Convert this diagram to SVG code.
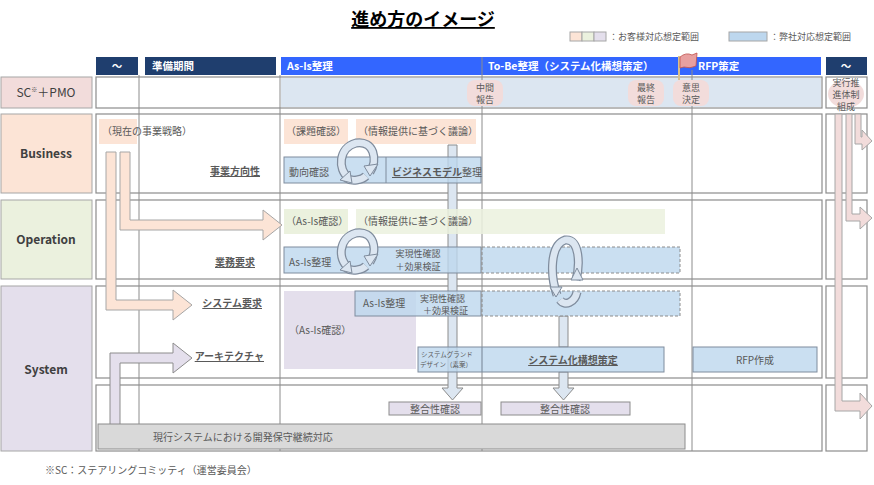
<svg xmlns="http://www.w3.org/2000/svg" width="874" height="485" viewBox="0 0 874 485">
<style>
text{font-family:"Noto Sans CJK JP","Liberation Sans",sans-serif;fill:#595959;font-size:10px}
.hd{fill:#fff;font-weight:bold;font-size:10.5px}
.lab{font-weight:bold;font-size:12px;fill:#404040}
.u{font-weight:bold;text-decoration:underline}
.sm{font-size:9px}
.row{fill:#fff;stroke:#8c8c8c;stroke-width:1.2}
.grid{stroke:#8c8c8c;stroke-width:1}
.bl{fill:#BDD7EE;fill-opacity:0.8;stroke:#7f8c9d;stroke-width:1}
.dash{fill:#BDD7EE;fill-opacity:0.8;stroke:#8c8c8c;stroke-dasharray:3,2}
.pk{fill:#FCE4D6}
.gr{fill:#EBF1DE}
.lv{fill:#E4DFEC}
.arP{fill:#FCE4D6;stroke:#a6a6a6;stroke-width:1}
.arL{fill:#E4DFEC;stroke:#8c8c8c;stroke-width:1}
.arR{fill:#F2DCDB;stroke:#a6a6a6;stroke-width:1}
.arB{fill:#DCE6F1;stroke:#8c8c8c;stroke-width:1}
.cyO{fill:none;stroke:#7f8c9d;stroke-width:9}
.cyI{fill:none;stroke:#DCE6F1;stroke-width:6.5}
.bub{fill:#F2DCDB}
</style>
<g id="title">
<text x="423" y="26" text-anchor="middle" style="font-size:18px;font-weight:bold;fill:#000;text-decoration:underline">進め方のイメージ</text>
</g>
<g id="legend">
<rect x="570" y="32" width="12" height="9" class="pk" stroke="#a6a6a6"/>
<rect x="582" y="32" width="12" height="9" class="gr" stroke="#a6a6a6"/>
<rect x="594" y="32" width="12" height="9" class="lv" stroke="#a6a6a6"/>
<text x="609" y="40" style="font-size:9px">：お客様対応想定範囲</text>
<rect x="729" y="32" width="38" height="9" fill="#BDD7EE" stroke="#a6a6a6"/>
<text x="770" y="40" style="font-size:9px">：弊社対応想定範囲</text>
</g>
<g id="header">
<rect x="96" y="57" width="42" height="18" fill="#1F3E6E"/>
<text x="117" y="70" class="hd" text-anchor="middle">～</text>
<rect x="145" y="57" width="131" height="18" fill="#1F3E6E"/>
<text x="152" y="70" class="hd">準備期間</text>
<rect x="281" y="57" width="540" height="18" fill="#3366FF"/>
<text x="287" y="70" class="hd">As-Is整理</text>
<text x="488" y="70" class="hd">To-Be整理（システム化構想策定）</text>
<text x="698" y="70" class="hd">RFP策定</text>
<rect x="826" y="57" width="41" height="18" fill="#1F3E6E"/>
<text x="846" y="70" class="hd" text-anchor="middle">～</text>
</g>
<g id="rows">
<rect x="1" y="77" width="91" height="31" fill="#F2DCDB" stroke="#a6a6a6"/>
<text x="46" y="97" text-anchor="middle" style="font-size:12px;fill:#404040">SC<tspan style="font-size:6px" dy="-5">※</tspan><tspan dy="5">＋PMO</tspan></text>
<rect x="96" y="77" width="726" height="31" class="row"/>
<rect x="281" y="78" width="540" height="29" fill="#DCE6F1"/>
<rect x="826" y="77" width="41" height="31" class="row"/>
<rect x="1" y="114" width="91" height="79" class="pk" stroke="#a6a6a6"/>
<text x="46" y="158" text-anchor="middle" class="lab">Business</text>
<rect x="96" y="114" width="726" height="79" class="row"/>
<rect x="826" y="114" width="41" height="79" class="row"/>
<rect x="1" y="200" width="91" height="79" class="gr" stroke="#a6a6a6"/>
<text x="46" y="244" text-anchor="middle" class="lab">Operation</text>
<rect x="96" y="200" width="726" height="79" class="row"/>
<rect x="826" y="200" width="41" height="79" class="row"/>
<rect x="1" y="286" width="91" height="165" class="lv" stroke="#a6a6a6"/>
<text x="46" y="374" text-anchor="middle" class="lab">System</text>
<rect x="96" y="286" width="726" height="92" class="row"/>
<rect x="826" y="286" width="41" height="92" class="row"/>
<rect x="96" y="385" width="726" height="66" class="row"/>
<rect x="826" y="385" width="41" height="66" class="row"/>
</g>
<g id="gridlines">
<line x1="139" y1="75" x2="139" y2="451" class="grid"/>
<line x1="280" y1="75" x2="280" y2="451" class="grid"/>
<line x1="482" y1="57" x2="482" y2="451" class="grid"/>
<line x1="692" y1="70" x2="692" y2="451" class="grid"/>
</g>
<g id="connectors">
<path d="M106,152 H116 V300 H173 V290 L192,305 L173,320 V310 H106 Z" class="arP"/>
<path d="M120,152 H130 V220 H263 V210 L282,225 L263,240 V230 H120 Z" class="arP"/>
<path d="M110,437 V353 H173 V343 L192,358 L173,373 V363 H120 V437 Z" class="arL"/>
<path d="M448,145 H457 V388 H463 L452.5,400 L442,388 H448 Z" class="arB"/>
<path d="M559,316 H568 V347 H559 Z M559,372 H568 V388 H574 L563.5,400 L553,388 H559 Z" class="arB"/>
<path d="M835,114 H842 V401 H860 V393 L872,406 L860,419 V411 H835 Z" class="arR"/>
<path d="M846,114 H852 V214 H860 V207 L872,218 L860,229 V221 H846 Z" class="arR"/>
<path d="M855,114 H861 V137 H862 V130 L872,141 L862,150 V144 H855 Z" class="arR"/>
</g>
<g id="sc-items">
<rect x="467" y="80" width="36" height="26" rx="8" class="bub"/>
<text x="485" y="91" text-anchor="middle" class="sm">中間</text><text x="485" y="103" text-anchor="middle" class="sm">報告</text>
<rect x="628" y="80" width="36" height="26" rx="8" class="bub"/>
<text x="646" y="91" text-anchor="middle" class="sm">最終</text><text x="646" y="103" text-anchor="middle" class="sm">報告</text>
<rect x="673" y="80" width="36" height="26" rx="8" class="bub"/>
<text x="691" y="91" text-anchor="middle" class="sm">意思</text><text x="691" y="103" text-anchor="middle" class="sm">決定</text>
<ellipse cx="846" cy="94" rx="18" ry="14" class="bub"/>
<text x="846" y="86" text-anchor="middle" class="sm">実行推</text><text x="846" y="98" text-anchor="middle" class="sm">進体制</text><text x="846" y="110" text-anchor="middle" class="sm">組成</text>
<line x1="679" y1="56" x2="679" y2="80" stroke="#d9c08c" stroke-width="2"/>
<path d="M680,57 Q686,52 692,55 L697,53 L696,66 Q690,69 684,67 L680,68 Z" fill="#E8A0A0" stroke="#c0504d" stroke-width="0.8"/>
</g>
<g id="business">
<rect x="99" y="119" width="38" height="25" class="pk"/>
<text x="102" y="135">（現在の事業戦略）</text>
<text x="260" y="175" class="u" text-anchor="end">事業方向性</text>
<rect x="284" y="119" width="64" height="25" class="pk"/>
<text x="286" y="135">（課題確認）</text>
<rect x="356" y="119" width="120" height="25" class="pk"/>
<text x="358" y="135">（情報提供に基づく議論）</text>
<rect x="284" y="157" width="197" height="26" class="bl"/>
<line x1="386" y1="157" x2="386" y2="183" stroke="#7f8c9d"/>
<text x="289" y="176">動向確認</text>
<text x="392" y="176"><tspan class="u">ビジネスモデル</tspan>整理</text>
<path d="M348,177 C338,170 338,148 356,143 C374,140 378,160 370,172 M346,178 C352,182 362,180 366,176" class="cyO"/>
<path d="M348,177 C338,170 338,148 356,143 C374,140 378,160 370,172 M346,178 C352,182 362,180 366,176" class="cyI"/>
<path d="M340,180 L350,171 L352,183 Z M378,164 L370,176 L364,166 Z" fill="#DCE6F1" stroke="#7f8c9d"/>
</g>
<g id="operation">
<text x="255" y="266" class="u" text-anchor="end">業務要求</text>
<rect x="284" y="209" width="64" height="25" class="gr"/>
<text x="286" y="225">（As-Is確認）</text>
<rect x="356" y="209" width="309" height="25" class="gr" fill-opacity="0.85"/>
<text x="358" y="225">（情報提供に基づく議論）</text>
<rect x="284" y="247" width="197" height="26" class="bl"/>
<rect x="482" y="247" width="198" height="26" class="dash"/>
<text x="289" y="266">As-Is整理</text>
<text x="418" y="257" text-anchor="middle" class="sm">実現性確認</text>
<text x="418" y="270" text-anchor="middle" class="sm">＋効果検証</text>
<path d="M348,267 C338,260 338,238 356,233 C374,230 378,250 370,262 M346,268 C352,272 362,270 366,266" class="cyO"/>
<path d="M348,267 C338,260 338,238 356,233 C374,230 378,250 370,262 M346,268 C352,272 362,270 366,266" class="cyI"/>
<path d="M340,270 L350,261 L352,273 Z M378,254 L370,266 L364,256 Z" fill="#DCE6F1" stroke="#7f8c9d"/>
</g>
<g id="system">
<text x="262" y="307" class="u" text-anchor="end">システム要求</text>
<text x="264" y="360" class="u" text-anchor="end">アーキテクチャ</text>
<rect x="284" y="291" width="132" height="78" class="lv"/>
<text x="289" y="334">（As-Is確認）</text>
<rect x="355" y="291" width="126" height="25" class="bl"/>
<rect x="482" y="291" width="198" height="25" class="dash"/>
<text x="363" y="307">As-Is整理</text>
<text x="420" y="302" class="sm">実現性確認</text>
<text x="423" y="314" class="sm">＋効果検証</text>
<rect x="418" y="347" width="246" height="25" class="bl"/>
<line x1="482" y1="347" x2="482" y2="372" stroke="#7f8c9d"/>
<text x="421" y="357" style="font-size:6.5px">システムグランド</text>
<text x="420" y="367" style="font-size:6.5px">デザイン（素案）</text>
<text x="573" y="364" text-anchor="middle" class="u">システム化構想策定</text>
<rect x="693" y="347" width="124" height="25" class="bl"/>
<text x="755" y="364" text-anchor="middle">RFP作成</text>
<rect x="389" y="402" width="92" height="13" class="lv" stroke="#8c8c8c"/>
<text x="435" y="413" text-anchor="middle">整合性確認</text>
<rect x="501" y="402" width="129" height="13" class="lv" stroke="#8c8c8c"/>
<text x="565" y="413" text-anchor="middle">整合性確認</text>
<rect x="98" y="424" width="587" height="25" fill="#D9D9D9" stroke="#8c8c8c"/>
<text x="153" y="441">現行システムにおける開発保守継続対応</text>
<path d="M557,295 C550,275 550,245 565,240 C580,238 580,265 576,280 M560,300 C565,307 575,302 577,292" class="cyO"/>
<path d="M557,295 C550,275 550,245 565,240 C580,238 580,265 576,280 M560,300 C565,307 575,302 577,292" class="cyI"/>
<path d="M550,287 L562,287 L556,297 Z M583,280 L571,280 L577,268 Z" fill="#DCE6F1" stroke="#7f8c9d"/>
</g>
<g id="footnote">
<text x="45" y="474">※SC：ステアリングコミッティ（運営委員会）</text>
</g>
</svg>
